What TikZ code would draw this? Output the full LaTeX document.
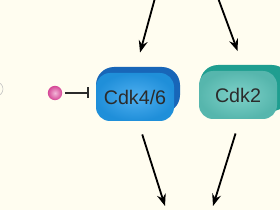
\documentclass[tikz,border=0pt]{standalone}
\usepackage{fontspec}
\setmainfont{Liberation Sans}
\usetikzlibrary{arrows.meta}
\definecolor{paper}{HTML}{FFFDF0}
\definecolor{cdkfourfront}{HTML}{229BEC}
\definecolor{cdkfourback}{HTML}{1866B8}
\definecolor{cdktwofront}{HTML}{5EC6BC}
\definecolor{cdktwoback}{HTML}{1F9E90}
\definecolor{labelgrey}{HTML}{2B2B2B}
\definecolor{inhibpink}{HTML}{E04A9E}
\begin{document}
\begin{tikzpicture}[x=0.05cm, y=-0.05cm,
    kinase/.style={rounded corners=0.7cm, minimum width=3.9cm, minimum height=2.4cm,
        inner sep=0pt, text=labelgrey, font=\fontsize{28}{30}\selectfont},
    kinaseback/.style={rounded corners=0.9cm, minimum width=4.2cm, minimum height=2.3cm, inner sep=0pt},
    arrow/.style={-{Stealth[length=0.6cm, width=0.45cm, inset=0.2cm]}, line width=2.6pt, black}]
    % Background
    \fill[paper] (0,0) rectangle (280,210);
    \useasboundingbox (0,0) rectangle (280,210);

    % Cut off shape at the left edge
    \draw[black!25, line width=0.8pt] (-4,82) arc[start angle=90, end angle=-90, radius=0.35cm];

    % Cdk4/6 box
    \node[kinaseback, fill=cdkfourback] (cdkfourback) at (138,90) {};
    \node[kinase, inner color=cdkfourfront!80!white, outer color=cdkfourfront!92!black] (cdkfour) at (135,97) {Cdk4/6};

    % Cdk2 box
    \node[kinaseback, minimum width=4.5cm, fill=cdktwoback] (cdktwoback) at (245,88) {};
    \node[kinase, inner color=cdktwofront!80!white, outer color=cdktwofront!92!black] (cdktwo) at (238,95) {Cdk2};

    % Inhibitor
    \coordinate (dot) at (55,93);
    \shade[inner color=inhibpink!40!white, outer color=inhibpink!95!black] (dot) circle (0.36cm);
    \draw[-{Bar[width=0.55cm]}, line width=2.6pt, labelgrey, shorten <=0.5cm, shorten >=0.35cm]
        (dot) -- (dot -| cdkfour.west);

    % Arrows in
    \coordinate (infour) at (155,-2);
    \coordinate (intwo) at (218,-2);
    \draw[arrow, shorten >=0.95cm] (infour) -- ([yshift=0.1cm]cdkfour.north);
    \draw[arrow, shorten >=1.05cm] (intwo) -- ([xshift=0.35cm]cdktwo.north);

    % Arrows out
    \coordinate (outfour) at (165,206);
    \coordinate (outtwo) at (213,206);
    \draw[arrow, shorten <=0.7cm] ([xshift=0.15cm]cdkfour.south) -- (outfour);
    \draw[arrow, shorten <=0.75cm] ([xshift=0.1cm]cdktwo.south) -- (outtwo);
\end{tikzpicture}
\end{document}
